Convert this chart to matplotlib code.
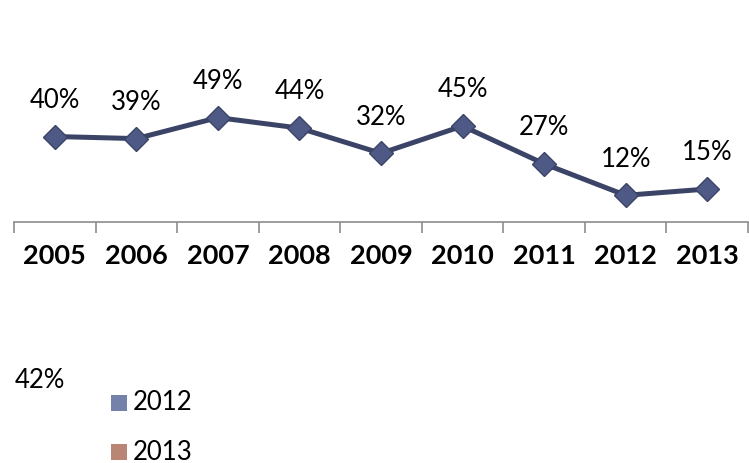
import matplotlib.pyplot as plt
from matplotlib.patches import Rectangle

plt.rcParams['font.family'] = ['Lato', 'DejaVu Sans']

# yearly share
years = ['2005', '2006', '2007', '2008', '2009', '2010', '2011', '2012', '2013']
share = [0.40, 0.39, 0.49, 0.44, 0.32, 0.45, 0.27, 0.12, 0.15]

# pie remnant: label and legend entries
side_label = '42%'
legend_years = ['2012', '2013']
legend_colors = ['#7481A9', '#B98574']

line_color = '#3B4466'
marker_face = '#4E5A85'
axis_color = '#8C8C8C'

W, H = 749, 463
fig = plt.figure(figsize=(W / 100, H / 100), dpi=100)
ax = fig.add_axes([14 / W, 241 / H, 734 / W, 192 / H])

x = list(range(len(years)))
ax.plot(x, share, color=line_color, lw=3.6, marker='D', ms=12.5,
        mfc=marker_face, mec=line_color, mew=1.0, zorder=3)

for xi, v in zip(x, share):
    ax.annotate(f'{v:.0%}', (xi, v), xytext=(0, 26), textcoords='offset points',
                ha='center', va='center', fontsize=18.5, color='black')

ax.set_xlim(-0.5, len(years) - 0.5)
ax.set_ylim(-0.007, 0.907)

# category labels at centres, tick marks at boundaries
ax.set_xticks(x)
ax.set_xticklabels(years, fontsize=19.5, fontweight='bold')
ax.tick_params(axis='x', which='major', length=0, pad=16)
ax.set_xticks([i - 0.5 for i in range(len(years) + 1)], minor=True)
ax.tick_params(axis='x', which='minor', length=8, width=1.2, color=axis_color,
               direction='out')
ax.set_yticks([])
for s in ['top', 'right', 'left']:
    ax.spines[s].set_visible(False)
ax.spines['bottom'].set_color(axis_color)
ax.spines['bottom'].set_linewidth(1.2)

fig.text(15 / W, 1 - 381 / H, side_label, fontsize=18.5, va='center', ha='left')

# small legend below the chart
for i, (lab, col) in enumerate(zip(legend_years, legend_colors)):
    yc = 403 + 49 * i
    fig.add_artist(Rectangle((111 / W, 1 - (yc + 8) / H), 16 / W, 16 / H,
                             transform=fig.transFigure, facecolor=col,
                             edgecolor='none'))
    fig.text(133 / W, 1 - yc / H, lab, fontsize=18.5, va='center', ha='left')

fig.savefig('out.png', dpi=100)
